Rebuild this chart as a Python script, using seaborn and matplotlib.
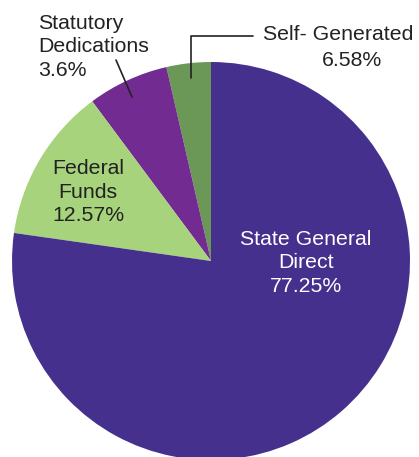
import matplotlib
matplotlib.use("Agg")
import matplotlib.pyplot as plt
import seaborn as sns

# Données (ordre anti-horaire depuis midi)
categories = ["Self- Generated", "Statutory Dedications", "Federal Funds", "State General Direct"]
values = [3.6, 6.58, 12.57, 77.25]
colors = ["#6B9857", "#722B91", "#A6D37B", "#46308E"]

sns.set_theme(style="white")
plt.rcParams['font.family'] = ['Liberation Sans', 'DejaVu Sans']

W, H = 419, 457
fig = plt.figure(figsize=(W / 100, H / 100), dpi=100)
ax = fig.add_axes([0, 0, 1, 1])

# y en pixels depuis le haut
def py(y):
    return H - y

ax.pie(values, colors=colors, startangle=90, counterclock=True,
       center=(211, py(261)), radius=199,
       wedgeprops=dict(linewidth=0))
ax.set_xlim(0, W)
ax.set_ylim(0, H)
ax.set_aspect("equal")
ax.axis("off")

fs = 15.3
ls = 1.3
ax.text(38, py(47), "Statutory\nDedications\n3.6%", ha="left", va="center",
        fontsize=fs, color="#222222", linespacing=ls)
ax.plot([116, 132], [py(60), py(97)], color="#222222", lw=1.2)

ax.text(338, py(35), "Self- Generated", ha="center", va="center",
        fontsize=fs, color="#222222")
ax.text(352, py(61), "6.58%", ha="center", va="center",
        fontsize=fs, color="#222222")
ax.plot([191, 191, 253], [py(78), py(36), py(36)], color="#222222", lw=1.2)

ax.text(88, py(192), "Federal\nFunds\n12.57%", ha="center", va="center",
        fontsize=fs, color="#222222", linespacing=ls)

ax.text(306, py(263), "State General\nDirect\n77.25%", ha="center", va="center",
        fontsize=fs, color="white", linespacing=ls)

fig.savefig("out.png", dpi=100)
